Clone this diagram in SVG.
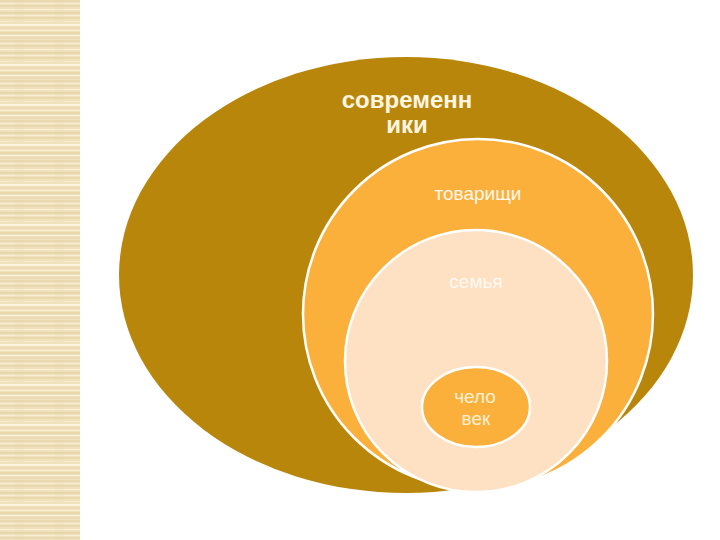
<svg xmlns="http://www.w3.org/2000/svg" width="720" height="540" viewBox="0 0 720 540">
  <style>
    .lbl { font-family: "Liberation Sans", Arial, sans-serif; text-anchor: middle; }
    .ring { stroke: #FFFFFF; stroke-width: 2.5; }
  </style>
  <defs>
    <pattern id="strip" x="0" y="0" width="80" height="40" patternUnits="userSpaceOnUse">
      <rect width="80" height="40" fill="#F1E2BE"/>
      <rect y="0" width="80" height="2" fill="#EAD8B0"/>
      <rect y="3" width="80" height="1" fill="#F8EDD2"/>
      <rect y="5" width="80" height="2" fill="#E9D7AE"/>
      <rect y="9" width="80" height="1" fill="#FAF0D8"/>
      <rect y="12" width="80" height="2" fill="#E8D6AC"/>
      <rect y="15" width="80" height="1" fill="#F8EDD2"/>
      <rect y="17" width="80" height="2" fill="#EAD8B0"/>
      <rect y="21" width="80" height="1" fill="#F6E9CB"/>
      <rect y="24" width="80" height="2" fill="#FCF5DC"/>
      <rect y="27" width="80" height="2" fill="#EBDAB3"/>
      <rect y="30" width="80" height="1" fill="#F8EDD2"/>
      <rect y="32" width="80" height="2" fill="#E9D7AE"/>
      <rect y="35" width="80" height="1" fill="#FAF0D8"/>
      <rect y="37" width="80" height="2" fill="#EBDAB3"/>
      <rect x="15" y="0" width="9" height="22" fill="#E6D3A8" opacity="0.18"/>
      <rect x="55" y="0" width="9" height="22" fill="#E6D3A8" opacity="0.18"/>
    </pattern>
  </defs>

  <rect x="0" y="0" width="720" height="540" fill="#FFFFFF"/>
  <rect id="side-strip" x="0" y="0" width="80" height="540" fill="url(#strip)"/>

  <g id="node-sovremenniki">
    <ellipse cx="406" cy="275" rx="287" ry="218" fill="#B8860B"/>
    <text class="lbl" x="407" y="108" font-size="24" font-weight="bold" fill="#FFF6E0">современн</text>
    <text class="lbl" x="407" y="133" font-size="24" font-weight="bold" fill="#FFF6E0">ики</text>
  </g>

  <g id="node-tovarishchi">
    <circle class="ring" cx="478" cy="314" r="175" fill="#FBB03B"/>
    <text class="lbl" x="478" y="200" font-size="19" fill="#FFF8EC">товарищи</text>
  </g>

  <g id="node-semya">
    <circle class="ring" cx="476" cy="361" r="131" fill="#FDE1C2"/>
    <text class="lbl" x="476" y="288" font-size="19" fill="#FFF9F2">семья</text>
  </g>

  <g id="node-chelovek">
    <ellipse class="ring" cx="476" cy="407" rx="54" ry="40" fill="#FBB03B"/>
    <text class="lbl" x="475" y="403" font-size="19" fill="#FFF0D4">чело</text>
    <text class="lbl" x="476" y="425" font-size="19" fill="#FFF0D4">век</text>
  </g>

  <g id="connectors"></g>
</svg>
